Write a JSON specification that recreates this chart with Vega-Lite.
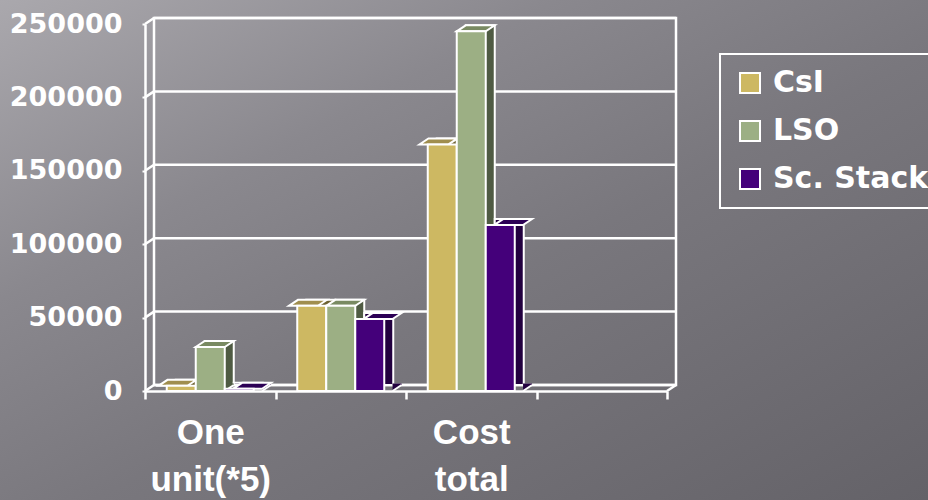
{
  "$schema": "https://vega.github.io/schema/vega-lite/v6.json",
  "width": 928,
  "height": 500,
  "autosize": {"type": "none"},
  "padding": 0,
  "background": "#7b7980",
  "config": {
    "view": {"stroke": null},
    "legend": {"strokeWidth": 2}
  },
  "datasets": {
    "bars": [
      {"category": "One unit(*5)", "series": "CsI", "value": 3500},
      {"category": "One unit(*5)", "series": "LSO", "value": 30000},
      {"category": "One unit(*5)", "series": "Sc. Stack", "value": 1500},
      {"category": " ", "series": "CsI", "value": 58000},
      {"category": " ", "series": "LSO", "value": 58000},
      {"category": " ", "series": "Sc. Stack", "value": 49000},
      {"category": "Cost total", "series": "CsI", "value": 168000},
      {"category": "Cost total", "series": "LSO", "value": 245000},
      {"category": "Cost total", "series": "Sc. Stack", "value": 113000}
    ],
    "ticks": [
      {"v": 0}, {"v": 50000}, {"v": 100000}, {"v": 150000}, {"v": 200000}, {"v": 250000}
    ]
  },
  "resolve": {"scale": {"xOffset": "independent", "fill": "independent"}},
  "layer": [
    {
      "data": {"values": [{}]},
      "mark": {
        "type": "rect",
        "fill": {
          "gradient": "linear",
          "x1": 0, "y1": 0, "x2": 1, "y2": 1,
          "stops": [
            {"offset": 0, "color": "#aaa8ad"},
            {"offset": 0.3, "color": "#8a888e"},
            {"offset": 0.55, "color": "#79777d"},
            {"offset": 1, "color": "#646268"}
          ]
        }
      },
      "encoding": {}
    },
    {
      "data": {"values": [{}]},
      "mark": {"type": "rect", "fillOpacity": 0, "stroke": "white", "strokeWidth": 2.5,
               "xOffset": 9, "x2Offset": 9, "yOffset": -6, "y2Offset": -6},
      "encoding": {
        "x": {"datum": "One unit(*5)", "type": "nominal", "bandPosition": 0,
              "scale": {"type": "band", "domain": ["One unit(*5)", " ", "Cost total", "  "], "range": [145, 667], "paddingInner": 0, "paddingOuter": 0}},
        "x2": {"datum": "  ", "bandPosition": 1},
        "y": {"datum": 250000, "type": "quantitative",
              "scale": {"domain": [0, 250000], "range": [391, 24], "nice": false}},
        "y2": {"datum": 0}
      }
    },
    {
      "data": {"name": "ticks"},
      "mark": {"type": "rule", "color": "white", "strokeWidth": 2.5,
               "xOffset": 9, "x2Offset": 9, "yOffset": -6, "y2Offset": -6},
      "encoding": {
        "x": {"datum": "One unit(*5)", "type": "nominal", "bandPosition": 0},
        "x2": {"datum": "  ", "bandPosition": 1},
        "y": {"field": "v", "type": "quantitative"}
      }
    },
    {
      "data": {"name": "ticks"},
      "mark": {"type": "point", "shape": "M0,0L9,-6", "size": 4, "filled": false,
               "stroke": "white", "strokeWidth": 2.5, "opacity": 1},
      "encoding": {
        "x": {"datum": "One unit(*5)", "type": "nominal", "bandPosition": 0},
        "y": {"field": "v", "type": "quantitative"}
      }
    },
    {
      "data": {"values": [{}]},
      "mark": {"type": "point", "shape": "M0,0L9,-6", "size": 4, "filled": false,
               "stroke": "white", "strokeWidth": 2.5, "opacity": 1},
      "encoding": {
        "x": {"datum": "  ", "type": "nominal", "bandPosition": 1},
        "y": {"datum": 0, "type": "quantitative"}
      }
    },
    {
      "data": {"name": "bars"},
      "mark": {"type": "bar", "stroke": "white", "strokeWidth": 2, "yOffset": -6, "y2Offset": -6},
      "encoding": {
        "x": {"field": "category", "type": "nominal"},
        "xOffset": {"field": "series", "type": "nominal",
                    "scale": {"paddingInner": 0, "paddingOuter": 0.75, "align": 0.7069}},
        "y": {"field": "value", "type": "quantitative"},
        "fill": {"field": "series", "type": "nominal", "legend": null,
                 "scale": {"domain": ["CsI", "LSO", "Sc. Stack"], "range": ["#6e6333", "#4f5b43", "#22003f"]}}
      }
    },
    {
      "data": {"name": "bars"},
      "mark": {"type": "point", "shape": "M14.5,-7.5L23.5,-7.5L23.5,-6L14.5,0Z", "size": 4,
               "filled": true, "strokeWidth": 0, "opacity": 1},
      "encoding": {
        "x": {"field": "category", "type": "nominal"},
        "xOffset": {"field": "series", "type": "nominal",
                    "scale": {"paddingInner": 0, "paddingOuter": 0.75}},
        "y": {"datum": 0, "type": "quantitative"},
        "fill": {"field": "series", "type": "nominal", "legend": null,
                 "scale": {"domain": ["CsI", "LSO", "Sc. Stack"], "range": ["#6e6333", "#4f5b43", "#22003f"]}}
      }
    },
    {
      "data": {"name": "bars"},
      "mark": {"type": "point", "shape": "M14.5,0L23.5,-6", "size": 4, "filled": false,
               "stroke": "white", "strokeWidth": 2, "opacity": 1},
      "encoding": {
        "x": {"field": "category", "type": "nominal"},
        "xOffset": {"field": "series", "type": "nominal",
                    "scale": {"paddingInner": 0, "paddingOuter": 0.75}},
        "y": {"datum": 0, "type": "quantitative"}
      }
    },
    {
      "data": {"name": "bars"},
      "mark": {"type": "point", "shape": "M-14.5,0L14.5,0L23.5,-6L-5.5,-6Z", "size": 4,
               "filled": true, "stroke": "white", "strokeWidth": 2, "opacity": 1},
      "encoding": {
        "x": {"field": "category", "type": "nominal"},
        "xOffset": {"field": "series", "type": "nominal",
                    "scale": {"paddingInner": 0, "paddingOuter": 0.75}},
        "y": {"field": "value", "type": "quantitative"},
        "fill": {"field": "series", "type": "nominal", "legend": null,
                 "scale": {"domain": ["CsI", "LSO", "Sc. Stack"], "range": ["#a08e4e", "#798a62", "#2c0055"]}}
      }
    },
    {
      "data": {"name": "bars"},
      "mark": {"type": "bar", "stroke": "white", "strokeWidth": 2},
      "encoding": {
        "x": {
          "field": "category", "type": "nominal",
          "axis": {
            "title": null, "offset": -109, "tickBand": "extent", "zindex": 1,
            "domainColor": "white", "domainWidth": 2.5,
            "tickColor": "white", "tickWidth": 2.5, "tickSize": 8,
            "labelPadding": 33, "labelFont": "Liberation Sans", "labelFontSize": 35,
            "labelFontWeight": "bold", "labelColor": "white", "labelAngle": 0,
            "labelAlign": "center",
            "labelLineHeight": 47, "labelExpr": "split(datum.label, ' ')",
            "labelOverlap": false, "labelLimit": 400
          }
        },
        "xOffset": {"field": "series", "type": "nominal",
                    "scale": {"paddingInner": 0, "paddingOuter": 0.75}},
        "y": {
          "field": "value", "type": "quantitative",
          "axis": {
            "title": null, "offset": -145, "grid": false, "zindex": 1,
            "values": [0, 50000, 100000, 150000, 200000, 250000], "format": "d",
            "domainColor": "white", "domainWidth": 2.5,
            "tickColor": "white", "tickWidth": 2, "tickSize": 3,
            "labelPadding": 20, "labelFont": "DejaVu Sans", "labelFontSize": 27,
            "labelFontWeight": "bold", "labelColor": "white", "labelAlign": "right"
          }
        },
        "color": {
          "field": "series", "type": "nominal",
          "scale": {"domain": ["CsI", "LSO", "Sc. Stack"], "range": ["#cdb862", "#9caf84", "#44007a"]},
          "legend": {
            "orient": "none", "legendX": 720, "legendY": 54, "title": null,
            "symbolType": "square", "symbolSize": 400, "symbolOpacity": 1,
            "symbolStrokeColor": "white", "symbolStrokeWidth": 2, "symbolOffset": 1,
            "labelFont": "DejaVu Sans", "labelFontSize": 30, "labelFontWeight": "bold",
            "labelColor": "white", "labelOffset": 8, "labelLimit": 400,
            "rowPadding": 18, "padding": 14, "strokeColor": "white"
          }
        }
      }
    }
  ]
}
